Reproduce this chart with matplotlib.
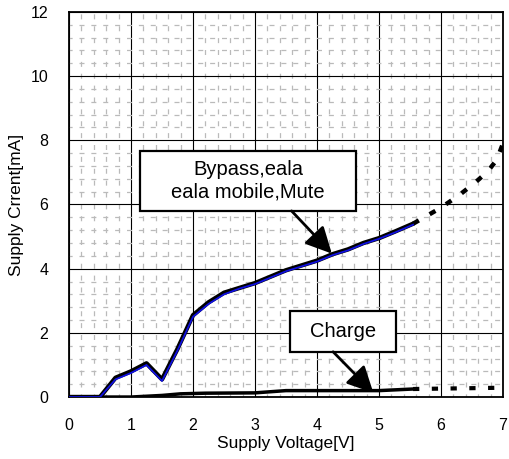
import matplotlib.pyplot as plt
from matplotlib.patches import Rectangle
from matplotlib.ticker import MultipleLocator

plt.rcParams['font.family'] = ['Liberation Sans', 'DejaVu Sans']

# measured supply current vs supply voltage
volt = [0.0, 0.5, 0.75, 1.0, 1.25, 1.5, 1.75, 2.0, 2.25, 2.5, 2.75, 3.0,
        3.25, 3.5, 3.75, 4.0, 4.25, 4.5, 4.75, 5.0, 5.25, 5.55]
bypass = [0.0, 0.0, 0.6, 0.8, 1.05, 0.55, 1.5, 2.55, 2.95, 3.25, 3.4, 3.55,
          3.75, 3.95, 4.1, 4.25, 4.45, 4.6, 4.8, 4.95, 5.15, 5.4]
mute = [0.0, 0.0, 0.55, 0.75, 1.0, 0.5, 1.45, 2.5, 2.9, 3.2, 3.38, 3.52,
        3.72, 3.92, 4.07, 4.22, 4.42, 4.57, 4.77, 4.93, 5.12, 5.37]
# extrapolated part
volt_ext = [5.55, 6.0, 6.3, 6.55, 6.75, 6.9, 7.0]
bypass_ext = [5.4, 5.9, 6.3, 6.68, 7.02, 7.39, 7.9]

volt_chg = [0.0, 1.0, 1.5, 1.8, 2.2, 3.0, 3.5, 4.5, 5.0, 5.55]
charge = [0.0, 0.0, 0.05, 0.1, 0.12, 0.13, 0.2, 0.2, 0.2, 0.25]
volt_chg_ext = [5.55, 7.0]
charge_ext = [0.25, 0.29]

fig = plt.figure(figsize=(5.09, 4.59), dpi=100)
ax = fig.add_axes([0.1356, 0.135, 0.8525, 0.839])

ax.plot(volt, bypass, color='black', lw=3.2, solid_capstyle='round', zorder=3)
ax.plot(volt, mute, color='#1010e0', lw=1.3, zorder=4)
ax.plot(volt_ext, bypass_ext, color='black', lw=3.2, ls=(0, (1.5, 2.8)), zorder=3)
ax.plot(volt_chg, charge, color='black', lw=2.5, zorder=3)
ax.plot(volt_chg_ext, charge_ext, color='black', lw=3, ls=(0, (1.5, 3.0)), zorder=3)

ax.set_xlim(0, 7)
ax.set_ylim(0, 12)
ax.xaxis.set_major_locator(MultipleLocator(1))
ax.yaxis.set_major_locator(MultipleLocator(2))
ax.xaxis.set_minor_locator(MultipleLocator(0.2))
ax.yaxis.set_minor_locator(MultipleLocator(0.4))
ax.grid(which='major', color='black', lw=0.8)
ax.grid(which='minor', color='#bababa', lw=0.9, ls=(1.5, (4, 5.5)))
ax.tick_params(which='both', length=0, labelsize=11.5)
ax.tick_params(axis='x', pad=15)
ax.tick_params(axis='y', pad=15)
for s in ax.spines.values():
    s.set_linewidth(1.3)

ax.set_xlabel('Supply Voltage[V]', fontsize=12.5)
ax.xaxis.set_label_coords(0.5, -0.10)
ax.set_ylabel('Supply Crrent[mA]', fontsize=12.5)
ax.yaxis.set_label_coords(-0.104, 0.5)

# label boxes with arrows
ax.add_patch(Rectangle((1.15, 5.8), 3.48, 1.87, facecolor='white',
                       edgecolor='black', lw=1.6, zorder=5))
ax.text(2.89, 6.73, 'Bypass,eala\neala mobile,Mute', ha='center', va='center',
        fontsize=14.5, linespacing=1.25, zorder=6)
ax.annotate('', xy=(4.24, 4.47), xytext=(3.59, 5.8),
            arrowprops=dict(arrowstyle='-|>', lw=2, color='black',
                            mutation_scale=40, shrinkA=0, shrinkB=0), zorder=6)

ax.add_patch(Rectangle((3.56, 1.41), 1.71, 1.27, facecolor='white',
                       edgecolor='black', lw=1.6, zorder=5))
ax.text(4.415, 2.05, 'Charge', ha='center', va='center', fontsize=14.5, zorder=6)
ax.annotate('', xy=(4.91, 0.13), xytext=(4.26, 1.41),
            arrowprops=dict(arrowstyle='-|>', lw=2, color='black',
                            mutation_scale=40, shrinkA=0, shrinkB=0), zorder=6)

fig.savefig('out.png', dpi=100)
